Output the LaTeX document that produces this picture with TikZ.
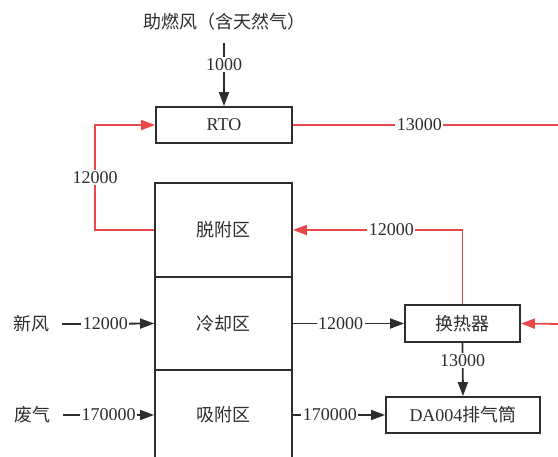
\documentclass[tikz,border=0pt]{standalone}
\usepackage{fontspec}
\setmainfont{Liberation Serif}
\newfontfamily\cjk{Noto Sans CJK SC}
\usetikzlibrary{arrows.meta,positioning}

\definecolor{hotred}{RGB}{232,72,74}
\definecolor{ink}{RGB}{45,45,45}

\tikzset{
  unit/.style={draw=ink, line width=1.8pt, text=ink, inner sep=0pt},
  zone/.style={unit, minimum width=137pt},
  gas/.style={text=ink, inner sep=0pt, font=\fontsize{18}{21}\selectfont\cjk},
  flow/.style={draw=ink, line width=1.8pt, -{Triangle[length=14pt,width=10pt]}},
  hot/.style={draw=hotred, line width=1.8pt, -{Triangle[length=14pt,width=10pt]}},
  rate/.style={fill=white, inner sep=1.5pt, text=ink}
}

\begin{document}
\begin{tikzpicture}[x=1pt, y=-1pt,
   every node/.style={font=\fontsize{18}{21}\selectfont}]

\path[use as bounding box, clip] (0,0) rectangle (558,457);

% burner air and RTO
\node[gas, minimum width=212pt, minimum height=42pt] (air) at (224,22) {助燃风（含天然气）};
\node[unit, minimum width=136pt, minimum height=36pt] (rto) at (224,125) {RTO};

% rotor zones
\node[zone, minimum height=94pt] (desorb) at (223.5,230) {\cjk 脱附区};
\node[zone, minimum height=93pt] (cool) at (223.5,323.5) {\cjk 冷却区};
\node[zone, minimum height=90pt] (adsorb) at (223.5,415) {\cjk 吸附区};

% right hand units
\node[unit, minimum width=115pt, minimum height=37pt] (hx) at (462.5,323.5) {\cjk 换热器};
\node[unit, minimum width=154pt, minimum height=36pt] (stack) at (463,415) {DA004\cjk 排气筒};

% inlets
\node[gas, minimum width=62pt] (fresh) at (31,324) {新风};
\node[gas, minimum width=62pt] (waste) at (32,415) {废气};
\coordinate (rtoout) at (562,125);
\coordinate (hxin) at (562,324);

% black flows
\draw[flow] (air.south) -- node[rate, pos=0.34] {1000} (rto.north);
\draw[flow] (fresh.east) -- node[rate, pos=0.47] {12000} (cool.west);
\draw[flow] (waste.east) -- node[rate, pos=0.5] {170000} (adsorb.west);
\draw[flow] (cool.east) -- node[rate, pos=0.43] {12000} (hx.west);
\draw[flow] (adsorb.east) -- node[rate, pos=0.4] {170000} (stack.west);
\draw[flow] (hx.south) -- node[rate, pos=0.33] {13000} (stack.north);

% hot flows
\draw[hot] (desorb.west) -- ++(-59,0) |- node[rate, pos=0.25] {12000} (rto.west);
\draw[hot, -] (rto.east) -- node[rate, pos=0.47] {13000} (rtoout);
\draw[hot] (hx.north) |- node[rate, pos=0.71] {12000} (desorb.east);
\draw[hot] (hxin) -- (hx.east);

\end{tikzpicture}
\end{document}
